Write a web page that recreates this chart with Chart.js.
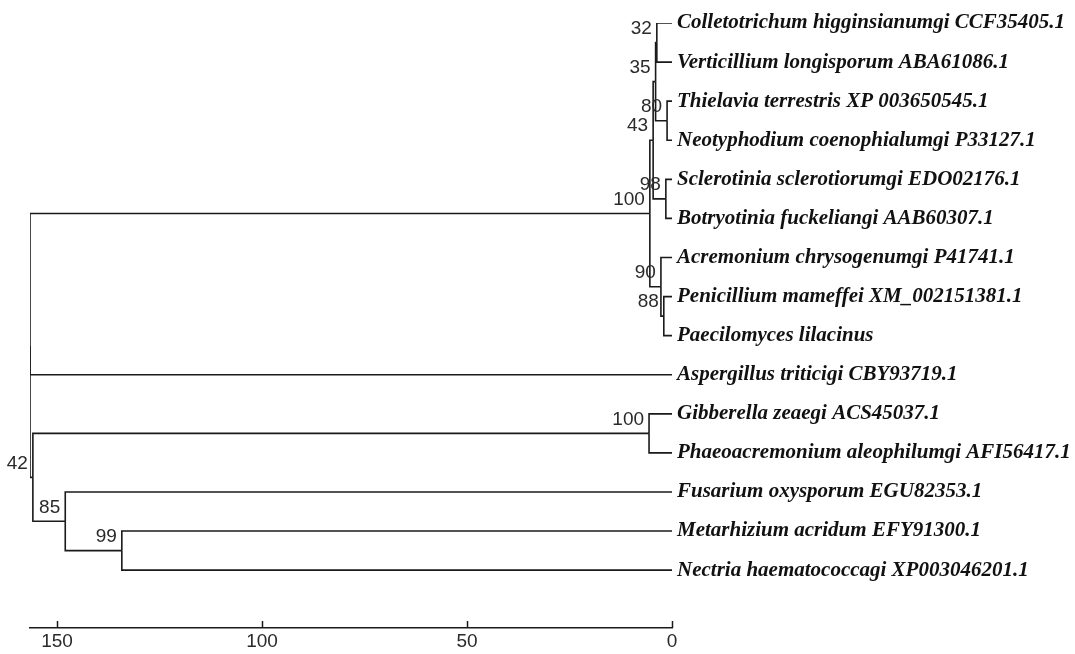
<!DOCTYPE html>
<html>
<head>
<meta charset="utf-8">
<script src="https://cdn.jsdelivr.net/npm/chart.js@4"></script>
<style>
  html, body { margin: 0; padding: 0; background: #fff; }
  canvas { display: block; }
</style>
</head>
<body>
<canvas id="tree" width="1075" height="654"></canvas>
<script>
// leaves, top to bottom
const leaves = [
  'Colletotrichum higginsianumgi CCF35405.1',
  'Verticillium longisporum ABA61086.1',
  'Thielavia terrestris XP 003650545.1',
  'Neotyphodium coenophialumgi P33127.1',
  'Sclerotinia sclerotiorumgi EDO02176.1',
  'Botryotinia fuckeliangi AAB60307.1',
  'Acremonium chrysogenumgi P41741.1',
  'Penicillium mameffei XM_002151381.1',
  'Paecilomyces lilacinus',
  'Aspergillus triticigi CBY93719.1',
  'Gibberella zeaegi ACS45037.1',
  'Phaeoacremonium aleophilumgi AFI56417.1',
  'Fusarium oxysporum EGU82353.1',
  'Metarhizium acridum EFY91300.1',
  'Nectria haematococcagi XP003046201.1'
]

// internal nodes: children refer to leaves (0-14) or internal nodes (15 + k)
const nodeChildren = [
  [0, 1], [2, 3], [15, 16], [4, 5], [17, 18], [7, 8], [6, 20],
  [19, 21], [10, 11], [13, 14], [12, 24], [23, 25], [22, 9, 26]
]
const nodeHeights = [3.7, 1.2, 4.0, 1.5, 4.6, 2.0, 2.7, 5.4, 5.6, 134.2, 148.0, 155.9, 156.6]
const nodeSupport = [32, 80, 35, 98, 43, 88, 90, 100, 100, 99, 85, 42, null]
const xTicks = [150, 100, 50, 0]

// y (leaf index units) and height for every node id
const ys = leaves.map((_, i) => i)
const hs = leaves.map(() => 0)
nodeChildren.forEach((ch, k) => {
  ys.push((ys[ch[0]] + ys[ch[ch.length - 1]]) / 2)
  hs.push(nodeHeights[k])
})

// one elbow per branch: parent vertical part + horizontal part to the child
const datasets = []
nodeChildren.forEach((ch, k) => {
  const p = leaves.length + k
  ch.forEach(c => {
    datasets.push({
      data: [
        { x: hs[p], y: ys[p] },
        { x: hs[p], y: ys[c] },
        { x: hs[c], y: ys[c] }
      ],
      showLine: true,
      borderColor: '#1a1a1a',
      borderWidth: 1.6,
      pointRadius: 0,
      tension: 0
    })
  })
})

const numFamily = '"Liberation Sans Narrow", "Arial Narrow", "Liberation Sans", sans-serif'

const supportLabels = {
  id: 'supportLabels',
  afterDatasetsDraw(chart) {
    const { ctx, scales: { x, y } } = chart
    ctx.save()
    ctx.font = '19px ' + numFamily
    ctx.fillStyle = '#2a2a2a'
    ctx.textAlign = 'right'
    ctx.textBaseline = 'middle'
    nodeSupport.forEach((s, k) => {
      if (s == null) return
      const id = leaves.length + k
      ctx.fillText(String(s), x.getPixelForValue(hs[id]) - 5, y.getPixelForValue(ys[id]) - 14)
    })
    ctx.restore()
  }
}

const upTicks = {
  id: 'upTicks',
  afterDraw(chart) {
    const { ctx, scales: { x } } = chart
    ctx.save()
    ctx.strokeStyle = '#1a1a1a'
    ctx.lineWidth = 1.5
    x.ticks.forEach(t => {
      const px = Math.round(x.getPixelForValue(t.value)) + 0.5
      ctx.beginPath()
      ctx.moveTo(px, x.top - 7)
      ctx.lineTo(px, x.top)
      ctx.stroke()
    })
    ctx.restore()
  }
}

new Chart(document.getElementById('tree'), {
  type: 'scatter',
  data: { datasets },
  options: {
    responsive: false,
    animation: false,
    layout: { padding: { left: 30, top: 23, right: 0, bottom: 0 } },
    plugins: { legend: { display: false }, tooltip: { enabled: false } },
    scales: {
      x: {
        type: 'linear',
        reverse: true,
        min: 0,
        max: 156.6,
        afterBuildTicks: scale => { scale.ticks = xTicks.map(v => ({ value: v })) },
        afterFit: scale => { scale.height = 26 },
        grid: { display: false, drawTicks: false },
        border: { display: true, color: '#1a1a1a', width: 1.6 },
        ticks: { padding: 2, color: '#2a2a2a', font: { family: numFamily, size: 19 } }
      },
      y: {
        type: 'linear',
        position: 'right',
        reverse: true,
        min: 0,
        max: 15.48,
        afterBuildTicks: scale => { scale.ticks = leaves.map((_, i) => ({ value: i })) },
        afterFit: scale => { scale.width = 403 },
        grid: { display: false, drawTicks: false },
        border: { display: false },
        ticks: {
          padding: 5,
          autoSkip: false,
          color: '#111',
          font: { family: '"Liberation Serif", "Times New Roman", serif', size: 21, style: 'italic', weight: 'bold' },
          callback: v => leaves[v]
        }
      }
    }
  },
  plugins: [supportLabels, upTicks]
})
</script>
</body>
</html>
